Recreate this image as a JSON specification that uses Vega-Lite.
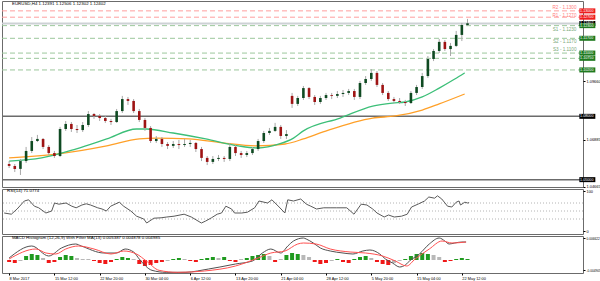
{
  "$schema": "https://vega.github.io/schema/vega-lite/v6.json",
  "padding": 0,
  "background": "white",
  "spacing": 2,
  "bounds": "flush",
  "config": {
    "view": {"stroke": "#6b6b6b", "strokeWidth": 1},
    "axis": {"labelFont": "Liberation Sans", "labelFontSize": 3.9, "labelColor": "#000000", "tickColor": "#000000", "tickSize": 2, "domain": false, "grid": false, "labelPadding": 1},
    "text": {"font": "Liberation Sans"}
  },
  "datasets": {
    "bars": [
      {"i":0,"o":1.0574,"h":1.0588,"l":1.0555,"c":1.0565,"mh":-0.0006,"hc":"dn"},
      {"i":4,"o":1.0565,"h":1.0574,"l":1.0536,"c":1.0551,"mh":-0.0009,"hc":"dn"},
      {"i":8,"o":1.0551,"h":1.0598,"l":1.0522,"c":1.0588,"mh":-0.0003,"hc":"fl"},
      {"i":12,"o":1.0588,"h":1.0655,"l":1.0579,"c":1.0636,"mh":0.0012,"hc":"up"},
      {"i":16,"o":1.0636,"h":1.0702,"l":1.0626,"c":1.0683,"mh":0.0018,"hc":"up"},
      {"i":20,"o":1.0683,"h":1.0712,"l":1.0678,"c":1.0693,"mh":0.0015,"hc":"up"},
      {"i":24,"o":1.0693,"h":1.0697,"l":1.0645,"c":1.0655,"mh":0.0006,"hc":"fl"},
      {"i":28,"o":1.0655,"h":1.0664,"l":1.0617,"c":1.0626,"mh":-0.0009,"hc":"dn"},
      {"i":32,"o":1.0626,"h":1.0636,"l":1.0603,"c":1.0612,"mh":-0.0006,"hc":"dn"},
      {"i":36,"o":1.0612,"h":1.075,"l":1.0607,"c":1.074,"mh":0.0009,"hc":"up"},
      {"i":40,"o":1.074,"h":1.0778,"l":1.0731,"c":1.0764,"mh":0.0015,"hc":"up"},
      {"i":44,"o":1.0764,"h":1.0773,"l":1.0726,"c":1.074,"mh":0.0012,"hc":"up"},
      {"i":48,"o":1.074,"h":1.0759,"l":1.0721,"c":1.0735,"mh":0.0006,"hc":"fl"},
      {"i":52,"o":1.0735,"h":1.0773,"l":1.0726,"c":1.0759,"mh":0.0003,"hc":"fl"},
      {"i":56,"o":1.0759,"h":1.0825,"l":1.075,"c":1.0811,"mh":0.0003,"hc":"fl"},
      {"i":60,"o":1.0811,"h":1.0816,"l":1.0788,"c":1.0802,"mh":-0.0003,"hc":"dn"},
      {"i":64,"o":1.0802,"h":1.0811,"l":1.0778,"c":1.0792,"mh":-0.0009,"hc":"dn"},
      {"i":68,"o":1.0792,"h":1.0802,"l":1.0769,"c":1.0778,"mh":-0.0012,"hc":"dn"},
      {"i":72,"o":1.0778,"h":1.0788,"l":1.0759,"c":1.0773,"mh":-0.0006,"hc":"dn"},
      {"i":76,"o":1.0773,"h":1.0835,"l":1.0769,"c":1.0825,"mh":0.0003,"hc":"up"},
      {"i":80,"o":1.0825,"h":1.0897,"l":1.0816,"c":1.0882,"mh":0.0009,"hc":"up"},
      {"i":84,"o":1.0882,"h":1.0892,"l":1.0854,"c":1.0873,"mh":0.0006,"hc":"up"},
      {"i":88,"o":1.0873,"h":1.0882,"l":1.0816,"c":1.0825,"mh":0.0003,"hc":"fl"},
      {"i":92,"o":1.0825,"h":1.0835,"l":1.0773,"c":1.0783,"mh":-0.0012,"hc":"dn"},
      {"i":96,"o":1.0783,"h":1.0792,"l":1.0731,"c":1.0745,"mh":-0.0018,"hc":"dn"},
      {"i":100,"o":1.0745,"h":1.0754,"l":1.0674,"c":1.0683,"mh":-0.0015,"hc":"dn"},
      {"i":104,"o":1.0683,"h":1.0707,"l":1.0674,"c":1.0693,"mh":-0.0009,"hc":"dn"},
      {"i":108,"o":1.0693,"h":1.0702,"l":1.0655,"c":1.0669,"mh":-0.0006,"hc":"dn"},
      {"i":112,"o":1.0669,"h":1.0678,"l":1.0645,"c":1.066,"mh":-0.0003,"hc":"fl"},
      {"i":116,"o":1.066,"h":1.0683,"l":1.065,"c":1.0669,"mh":0.0003,"hc":"up"},
      {"i":120,"o":1.0669,"h":1.0688,"l":1.0645,"c":1.0664,"mh":0.0006,"hc":"up"},
      {"i":124,"o":1.0664,"h":1.0693,"l":1.0655,"c":1.0669,"mh":0.0003,"hc":"fl"},
      {"i":128,"o":1.0669,"h":1.0688,"l":1.0655,"c":1.0674,"mh":-0.0003,"hc":"dn"},
      {"i":132,"o":1.0674,"h":1.0678,"l":1.0631,"c":1.0645,"mh":-0.0006,"hc":"dn"},
      {"i":136,"o":1.0645,"h":1.0655,"l":1.0588,"c":1.0603,"mh":0.0003,"hc":"up"},
      {"i":140,"o":1.0603,"h":1.0612,"l":1.0569,"c":1.0584,"mh":0.0006,"hc":"up"},
      {"i":144,"o":1.0584,"h":1.0612,"l":1.0574,"c":1.0598,"mh":0.0009,"hc":"up"},
      {"i":148,"o":1.0598,"h":1.0617,"l":1.0588,"c":1.0603,"mh":0.0006,"hc":"fl"},
      {"i":152,"o":1.0603,"h":1.0612,"l":1.0584,"c":1.0598,"mh":0.0009,"hc":"up"},
      {"i":156,"o":1.0598,"h":1.0674,"l":1.0588,"c":1.0655,"mh":-0.0003,"hc":"dn"},
      {"i":160,"o":1.0655,"h":1.0664,"l":1.0612,"c":1.0626,"mh":-0.0006,"hc":"dn"},
      {"i":164,"o":1.0626,"h":1.0636,"l":1.0603,"c":1.0617,"mh":0.0003,"hc":"fl"},
      {"i":168,"o":1.0617,"h":1.0636,"l":1.0607,"c":1.0626,"mh":0.0006,"hc":"up"},
      {"i":172,"o":1.0626,"h":1.0655,"l":1.0617,"c":1.0645,"mh":0.0012,"hc":"up"},
      {"i":176,"o":1.0645,"h":1.0693,"l":1.0636,"c":1.0683,"mh":0.0015,"hc":"up"},
      {"i":180,"o":1.0683,"h":1.0731,"l":1.0674,"c":1.0721,"mh":0.0018,"hc":"up"},
      {"i":184,"o":1.0721,"h":1.0745,"l":1.0712,"c":1.0731,"mh":0.0012,"hc":"fl"},
      {"i":188,"o":1.0731,"h":1.0769,"l":1.0726,"c":1.075,"mh":-0.0006,"hc":"dn"},
      {"i":192,"o":1.075,"h":1.0759,"l":1.0693,"c":1.0707,"mh":0.0003,"hc":"fl"},
      {"i":196,"o":1.0707,"h":1.0735,"l":1.0693,"c":1.0716,"mh":0.0015,"hc":"up"},
      {"i":200,"o":1.0897,"h":1.0911,"l":1.084,"c":1.0859,"mh":0.0021,"hc":"up"},
      {"i":204,"o":1.0859,"h":1.0897,"l":1.0849,"c":1.0887,"mh":0.0018,"hc":"up"},
      {"i":208,"o":1.0887,"h":1.0944,"l":1.0878,"c":1.0934,"mh":0.0015,"hc":"fl"},
      {"i":212,"o":1.0934,"h":1.0939,"l":1.0882,"c":1.0892,"mh":0.0009,"hc":"fl"},
      {"i":216,"o":1.0892,"h":1.0901,"l":1.0854,"c":1.0868,"mh":-0.0006,"hc":"dn"},
      {"i":220,"o":1.0868,"h":1.0897,"l":1.0859,"c":1.0887,"mh":-0.0012,"hc":"dn"},
      {"i":224,"o":1.0887,"h":1.0911,"l":1.0878,"c":1.0901,"mh":-0.0009,"hc":"dn"},
      {"i":228,"o":1.0901,"h":1.0911,"l":1.0882,"c":1.0897,"mh":-0.0003,"hc":"fl"},
      {"i":232,"o":1.0897,"h":1.092,"l":1.0887,"c":1.0906,"mh":0.0003,"hc":"up"},
      {"i":236,"o":1.0906,"h":1.0925,"l":1.0892,"c":1.0911,"mh":-0.0006,"hc":"dn"},
      {"i":240,"o":1.0911,"h":1.093,"l":1.0901,"c":1.092,"mh":-0.0009,"hc":"dn"},
      {"i":244,"o":1.092,"h":1.093,"l":1.0878,"c":1.0892,"mh":0.0003,"hc":"up"},
      {"i":248,"o":1.0892,"h":1.0968,"l":1.0882,"c":1.0958,"mh":0.0009,"hc":"up"},
      {"i":252,"o":1.0958,"h":1.0991,"l":1.0949,"c":1.0977,"mh":0.0012,"hc":"up"},
      {"i":256,"o":1.0977,"h":1.1024,"l":1.0968,"c":1.1006,"mh":0.0006,"hc":"fl"},
      {"i":260,"o":1.1006,"h":1.1015,"l":1.0939,"c":1.0949,"mh":-0.0006,"hc":"dn"},
      {"i":264,"o":1.0949,"h":1.0958,"l":1.0901,"c":1.0911,"mh":-0.0012,"hc":"dn"},
      {"i":268,"o":1.0911,"h":1.092,"l":1.0873,"c":1.0882,"mh":-0.0015,"hc":"dn"},
      {"i":272,"o":1.0882,"h":1.0892,"l":1.0863,"c":1.0873,"mh":-0.0009,"hc":"fl"},
      {"i":276,"o":1.0873,"h":1.0887,"l":1.0859,"c":1.0868,"mh":-0.0003,"hc":"fl"},
      {"i":280,"o":1.0868,"h":1.0878,"l":1.0849,"c":1.0863,"mh":0.0003,"hc":"up"},
      {"i":284,"o":1.0863,"h":1.092,"l":1.0859,"c":1.0911,"mh":0.0012,"hc":"up"},
      {"i":288,"o":1.0911,"h":1.0949,"l":1.0901,"c":1.0939,"mh":0.0018,"hc":"up"},
      {"i":292,"o":1.0939,"h":1.1006,"l":1.093,"c":1.0991,"mh":0.0021,"hc":"up"},
      {"i":296,"o":1.0991,"h":1.1086,"l":1.0982,"c":1.1072,"mh":0.0018,"hc":"up"},
      {"i":300,"o":1.1072,"h":1.1119,"l":1.1062,"c":1.111,"mh":0.0015,"hc":"fl"},
      {"i":304,"o":1.111,"h":1.1167,"l":1.11,"c":1.1153,"mh":0.0009,"hc":"fl"},
      {"i":308,"o":1.1153,"h":1.1162,"l":1.111,"c":1.1119,"mh":-0.0006,"hc":"dn"},
      {"i":312,"o":1.1119,"h":1.1148,"l":1.1086,"c":1.1134,"mh":-0.0003,"hc":"dn"},
      {"i":316,"o":1.1134,"h":1.1205,"l":1.1129,"c":1.1186,"mh":0.0003,"hc":"up"},
      {"i":320,"o":1.1186,"h":1.1243,"l":1.1157,"c":1.1233,"mh":0.0006,"hc":"up"},
      {"i":324,"o":1.1233,"h":1.1262,"l":1.1228,"c":1.1241,"mh":0.0003,"hc":"up"}
    ],
    "ma": [
      {"s":"fast","i":0,"v":1.0588},{"s":"fast","i":23,"v":1.0603},{"s":"fast","i":47,"v":1.0645},{"s":"fast","i":69,"v":1.0693},
      {"s":"fast","i":90,"v":1.074},{"s":"fast","i":97,"v":1.074},{"s":"fast","i":116,"v":1.0721},{"s":"fast","i":139,"v":1.0693},
      {"s":"fast","i":162,"v":1.066},{"s":"fast","i":176,"v":1.065},{"s":"fast","i":191,"v":1.0669},{"s":"fast","i":201,"v":1.0697},
      {"s":"fast","i":208,"v":1.0731},{"s":"fast","i":234,"v":1.0792},{"s":"fast","i":257,"v":1.0849},{"s":"fast","i":271,"v":1.0863},
      {"s":"fast","i":280,"v":1.0868},{"s":"fast","i":292,"v":1.0892},{"s":"fast","i":304,"v":1.0934},{"s":"fast","i":315,"v":1.0977},
      {"s":"fast","i":322,"v":1.1006},
      {"s":"slow","i":0,"v":1.0603},{"s":"slow","i":35,"v":1.0622},{"s":"slow","i":69,"v":1.066},{"s":"slow","i":92,"v":1.0693},
      {"s":"slow","i":104,"v":1.0697},{"s":"slow","i":127,"v":1.0693},{"s":"slow","i":151,"v":1.0674},{"s":"slow","i":174,"v":1.066},
      {"s":"slow","i":195,"v":1.0669},{"s":"slow","i":208,"v":1.0693},{"s":"slow","i":222,"v":1.0726},{"s":"slow","i":257,"v":1.0792},
      {"s":"slow","i":273,"v":1.0802},{"s":"slow","i":292,"v":1.083},{"s":"slow","i":304,"v":1.0859},{"s":"slow","i":322,"v":1.0906}
    ],
    "levels": [
      {"name":"R2","price":1.13,"kind":"R","label":"R2 - 1.1300"},
      {"name":"R1","price":1.127,"kind":"R","label":"R1 - 1.1270"},
      {"name":"Bid","price":1.12402,"kind":"Bid","label":""},
      {"name":"S1","price":1.123,"kind":"S","label":"S1 - 1.1230"},
      {"name":"S2","price":1.117,"kind":"S","label":"S2 - 1.1170"},
      {"name":"S3","price":1.11,"kind":"S","label":"S3 - 1.1100"},
      {"name":"L1","price":1.1075,"kind":"S","label":""},
      {"name":"L2","price":1.102,"kind":"S","label":""},
      {"name":"K1","price":1.08,"kind":"K","label":""},
      {"name":"K2","price":1.05,"kind":"K","label":""}
    ],
    "rsi": [
      {"i":0,"v":45},{"i":5,"v":42},{"i":9,"v":55},{"i":14,"v":75},{"i":17,"v":78},{"i":21,"v":62},{"i":24,"v":58},{"i":29,"v":45},
      {"i":33,"v":50},{"i":35,"v":70},{"i":38,"v":67},{"i":43,"v":70},{"i":47,"v":62},{"i":50,"v":58},{"i":54,"v":65},{"i":57,"v":68},
      {"i":60,"v":65},{"i":65,"v":58},{"i":68,"v":55},{"i":71,"v":50},{"i":74,"v":62},{"i":80,"v":72},{"i":83,"v":62},{"i":88,"v":50},
      {"i":92,"v":37},{"i":97,"v":30},{"i":99,"v":20},{"i":104,"v":32},{"i":109,"v":33},{"i":113,"v":35},{"i":118,"v":37},{"i":125,"v":42},
      {"i":130,"v":35},{"i":137,"v":20},{"i":140,"v":25},{"i":144,"v":33},{"i":148,"v":42},{"i":151,"v":45},{"i":154,"v":62},{"i":158,"v":55},
      {"i":160,"v":45},{"i":165,"v":45},{"i":169,"v":47},{"i":174,"v":58},{"i":177,"v":75},{"i":183,"v":70},{"i":186,"v":78},{"i":191,"v":60},
      {"i":195,"v":45},{"i":197,"v":78},{"i":201,"v":75},{"i":206,"v":80},{"i":210,"v":67},{"i":213,"v":62},{"i":217,"v":55},{"i":222,"v":58},
      {"i":227,"v":58},{"i":231,"v":58},{"i":238,"v":58},{"i":243,"v":42},{"i":248,"v":67},{"i":252,"v":65},{"i":256,"v":55},{"i":259,"v":45},
      {"i":264,"v":35},{"i":267,"v":40},{"i":271,"v":35},{"i":276,"v":37},{"i":280,"v":42},{"i":283,"v":60},{"i":288,"v":68},{"i":292,"v":75},
      {"i":295,"v":85},{"i":299,"v":82},{"i":301,"v":88},{"i":304,"v":80},{"i":308,"v":62},{"i":311,"v":60},{"i":314,"v":72},{"i":316,"v":75},
      {"i":317,"v":65},{"i":320,"v":72},{"i":322,"v":70},{"i":323,"v":71}
    ],
    "macd": [
      {"s":"m","i":0,"v":0.0006},{"s":"m","i":16,"v":0.0042},{"s":"m","i":28,"v":0.0012},{"s":"m","i":37,"v":0.0036},{"s":"m","i":47,"v":0.0048},
      {"s":"m","i":51,"v":0.0042},{"s":"m","i":67,"v":0.0021},{"s":"m","i":76,"v":0.0021},{"s":"m","i":82,"v":0.0033},{"s":"m","i":88,"v":0.0024},
      {"s":"m","i":92,"v":0.0003},{"s":"m","i":101,"v":-0.0031},{"s":"m","i":111,"v":-0.0037},{"s":"m","i":125,"v":-0.0037},{"s":"m","i":133,"v":-0.0033},
      {"s":"m","i":141,"v":-0.0027},{"s":"m","i":149,"v":-0.0021},{"s":"m","i":160,"v":-0.0012},{"s":"m","i":172,"v":-0.0003},{"s":"m","i":179,"v":0.0021},
      {"s":"m","i":185,"v":0.0033},{"s":"m","i":192,"v":0.0021},{"s":"m","i":197,"v":0.0042},{"s":"m","i":201,"v":0.0057},{"s":"m","i":208,"v":0.0066},
      {"s":"m","i":210,"v":0.0063},{"s":"m","i":215,"v":0.0051},{"s":"m","i":220,"v":0.0036},{"s":"m","i":227,"v":0.0027},{"s":"m","i":236,"v":0.0021},
      {"s":"m","i":243,"v":0.0018},{"s":"m","i":250,"v":0.0027},{"s":"m","i":255,"v":0.003},{"s":"m","i":262,"v":0.0018},{"s":"m","i":266,"v":0.0003},
      {"s":"m","i":271,"v":-0.0009},{"s":"m","i":276,"v":-0.0021},{"s":"m","i":280,"v":-0.0015},{"s":"m","i":283,"v":-0.0003},{"s":"m","i":290,"v":0.0018},
      {"s":"m","i":297,"v":0.0048},{"s":"m","i":304,"v":0.0066},{"s":"m","i":308,"v":0.0057},{"s":"m","i":311,"v":0.0048},{"s":"m","i":315,"v":0.0051},
      {"s":"m","i":320,"v":0.0054},{"s":"m","i":323,"v":0.0054},
      {"s":"s","i":0,"v":0.0003},{"s":"s","i":19,"v":0.0033},{"s":"s","i":26,"v":0.0021},{"s":"s","i":33,"v":0.0018},{"s":"s","i":40,"v":0.0033},
      {"s":"s","i":49,"v":0.0042},{"s":"s","i":60,"v":0.0033},{"s":"s","i":72,"v":0.0018},{"s":"s","i":81,"v":0.0027},{"s":"s","i":90,"v":0.0018},
      {"s":"s","i":97,"v":-0.0003},{"s":"s","i":106,"v":-0.0031},{"s":"s","i":119,"v":-0.0037},{"s":"s","i":138,"v":-0.0033},{"s":"s","i":160,"v":-0.0018},
      {"s":"s","i":176,"v":0.0006},{"s":"s","i":185,"v":0.0021},{"s":"s","i":195,"v":0.0027},{"s":"s","i":204,"v":0.0048},{"s":"s","i":208,"v":0.0051},
      {"s":"s","i":217,"v":0.0048},{"s":"s","i":227,"v":0.0033},{"s":"s","i":241,"v":0.0024},{"s":"s","i":252,"v":0.0021},{"s":"s","i":264,"v":0.0012},
      {"s":"s","i":273,"v":-0.0003},{"s":"s","i":281,"v":-0.0018},{"s":"s","i":287,"v":0.0003},{"s":"s","i":297,"v":0.0033},{"s":"s","i":306,"v":0.0057},
      {"s":"s","i":313,"v":0.0051},{"s":"s","i":323,"v":0.0054}
    ]
  },
  "vconcat": [
    {
      "width": 581,
      "height": 186,
      "layer": [
        {
          "data": {"name": "levels"},
          "transform": [{"filter": "datum.kind === 'K'"}],
          "mark": {"type": "rule", "color": "#6b6b6b", "strokeWidth": 1.5},
          "encoding": {
            "y": {"field": "price", "type": "quantitative", "title": null,
                  "scale": {"domain": [1.04651, 1.13468], "nice": false, "zero": false},
                  "axis": {"orient": "right", "title": null, "format": ".5f",
                           "values": [1.04665, 1.0522, 1.05775, 1.0633, 1.06885, 1.0744, 1.0855, 1.09105, 1.0966, 1.11325, 1.1188]}}
          }
        },
        {
          "data": {"name": "levels"},
          "transform": [{"filter": "datum.kind === 'R'"}],
          "mark": {"type": "rule", "color": "#ff9e9e", "strokeWidth": 1, "strokeDash": [5, 3]},
          "encoding": {"y": {"field": "price", "type": "quantitative", "title": null}}
        },
        {
          "data": {"name": "levels"},
          "transform": [{"filter": "datum.kind === 'S'"}],
          "mark": {"type": "rule", "color": "#9cc79c", "strokeWidth": 1, "strokeDash": [5, 3]},
          "encoding": {"y": {"field": "price", "type": "quantitative", "title": null}}
        },
        {
          "data": {"name": "levels"},
          "transform": [{"filter": "datum.kind === 'Bid'"}],
          "mark": {"type": "rule", "color": "#cdd1d5", "strokeWidth": 2},
          "encoding": {"y": {"field": "price", "type": "quantitative", "title": null}}
        },
        {
          "data": {"name": "ma"},
          "transform": [{"filter": "datum.s === 'slow'"}],
          "mark": {"type": "line", "color": "#ffa028", "strokeWidth": 1.3, "interpolate": "monotone"},
          "encoding": {
            "x": {"field": "i", "type": "quantitative", "title": null, "scale": {"domain": [-1.5, 402.1], "nice": false, "zero": false}, "axis": null},
            "y": {"field": "v", "type": "quantitative", "title": null}
          }
        },
        {
          "data": {"name": "ma"},
          "transform": [{"filter": "datum.s === 'fast'"}],
          "mark": {"type": "line", "color": "#3cbf78", "strokeWidth": 1.3, "interpolate": "monotone"},
          "encoding": {
            "x": {"field": "i", "type": "quantitative", "title": null},
            "y": {"field": "v", "type": "quantitative", "title": null}
          }
        },
        {
          "data": {"name": "bars"},
          "mark": {"type": "rule", "color": "#a8a8a8", "strokeWidth": 1},
          "encoding": {
            "x": {"field": "i", "type": "quantitative", "title": null},
            "y": {"field": "l", "type": "quantitative", "title": null},
            "y2": {"field": "h"}
          }
        },
        {
          "data": {"name": "bars"},
          "mark": {"type": "bar", "size": 2.6},
          "encoding": {
            "x": {"field": "i", "type": "quantitative", "title": null},
            "y": {"field": "o", "type": "quantitative", "title": null},
            "y2": {"field": "c"},
            "color": {"condition": {"test": "datum.c >= datum.o", "value": "#0f4a22"}, "value": "#9e1414"}
          }
        },
        {
          "data": {"name": "levels"},
          "transform": [{"filter": "datum.name === 'R2' || datum.name === 'S3'"}],
          "mark": {"type": "text", "align": "right", "baseline": "bottom", "dy": -1, "fontSize": 4.6},
          "encoding": {
            "x": {"datum": 401},
            "y": {"field": "price", "type": "quantitative", "title": null},
            "text": {"field": "label"},
            "color": {"condition": {"test": "datum.kind === 'R'", "value": "#ff7d7d"}, "value": "#78a878"}
          }
        },
        {
          "data": {"name": "levels"},
          "transform": [{"filter": "datum.name === 'S1' || datum.name === 'S2'"}],
          "mark": {"type": "text", "align": "right", "baseline": "top", "dy": 1, "fontSize": 4.6},
          "encoding": {
            "x": {"datum": 401},
            "y": {"field": "price", "type": "quantitative", "title": null},
            "text": {"field": "label"},
            "color": {"value": "#78a878"}
          }
        },
        {
          "data": {"name": "levels"},
          "transform": [{"filter": "datum.name === 'R1'"}],
          "mark": {"type": "text", "align": "right", "baseline": "middle", "dy": -1, "fontSize": 4.6},
          "encoding": {
            "x": {"datum": 401},
            "y": {"field": "price", "type": "quantitative", "title": null},
            "text": {"field": "label"},
            "color": {"value": "#ff7d7d"}
          }
        },
        {
          "data": {"name": "levels"},
          "mark": {"type": "tick", "orient": "horizontal", "size": 16, "thickness": 5, "opacity": 1},
          "encoding": {
            "x": {"datum": 408.7},
            "y": {"field": "price", "type": "quantitative", "title": null},
            "color": {"condition": [{"test": "datum.kind === 'R'", "value": "#ee1c1c"}, {"test": "datum.kind === 'S'", "value": "#1f7a1f"}], "value": "#000000"}
          }
        },
        {
          "data": {"name": "levels"},
          "mark": {"type": "text", "align": "left", "baseline": "middle", "fontSize": 3.7, "color": "#ffffff"},
          "encoding": {
            "x": {"datum": 403.6},
            "y": {"field": "price", "type": "quantitative", "title": null},
            "text": {"field": "price", "type": "quantitative", "format": ".5f"}
          }
        },
        {
          "data": {"values": [{"t": "EURUSD,H4  1.12391 1.12506 1.12302 1.12402"}]},
          "mark": {"type": "text", "align": "left", "baseline": "top", "fontSize": 4.4, "color": "#000000"},
          "encoding": {
            "x": {"datum": 2},
            "y": {"datum": 1.1343},
            "text": {"field": "t"}
          }
        }
      ]
    },
    {
      "width": 581,
      "height": 45,
      "layer": [
        {
          "data": {"values": [{"v": 30}, {"v": 50}, {"v": 70}]},
          "mark": {"type": "rule", "color": "#b4b4b4", "strokeWidth": 1, "strokeDash": [1, 2]},
          "encoding": {
            "y": {"field": "v", "type": "quantitative", "title": null,
                  "scale": {"domain": [-7.5, 105], "nice": false, "zero": false},
                  "axis": {"orient": "right", "title": null, "values": [0, 30, 50, 70, 100]}}
          }
        },
        {
          "data": {"name": "rsi"},
          "mark": {"type": "line", "color": "#5a5a5a", "strokeWidth": 1},
          "encoding": {
            "x": {"field": "i", "type": "quantitative", "title": null, "scale": {"domain": [-1.5, 402.1], "nice": false, "zero": false}, "axis": null},
            "y": {"field": "v", "type": "quantitative", "title": null}
          }
        },
        {
          "data": {"values": [{"t": "RSI(14) 71.0774"}]},
          "mark": {"type": "text", "align": "left", "baseline": "top", "fontSize": 4.4, "color": "#000000"},
          "encoding": {
            "x": {"datum": 2},
            "y": {"datum": 104},
            "text": {"field": "t"}
          }
        }
      ]
    },
    {
      "width": 581,
      "height": 37,
      "layer": [
        {
          "data": {"name": "bars"},
          "mark": {"type": "bar", "size": 4},
          "encoding": {
            "x": {"field": "i", "type": "quantitative", "title": null,
                  "scale": {"domain": [-1.5, 402.1], "nice": false, "zero": false},
                  "axis": {"orient": "bottom", "title": null, "values": [0,16,32,48,64,80,96,112,128,144,160,176,192,208,224,240,256,272,288,304,320],
                           "labelAlign": "left", "labelBaseline": "top", "labelOverlap": false, "labelFlush": false, "labelPadding": 1,
                           "labelExpr": "['8 Mar 2017','10 Mar 20:00','15 Mar 12:00','20 Mar 04:00','22 Mar 20:00','27 Mar 12:00','30 Mar 04:00','3 Apr 20:00','6 Apr 12:00','11 Apr 04:00','13 Apr 20:00','18 Apr 12:00','21 Apr 04:00','25 Apr 20:00','28 Apr 12:00','3 May 04:00','5 May 20:00','10 May 12:00','15 May 04:00','17 May 20:00','22 May 12:00'][round(datum.value/16)]"}},
            "y": {"field": "mh", "type": "quantitative", "title": null,
                  "scale": {"domain": [-0.0039, 0.0072], "nice": false, "zero": false},
                  "axis": {"orient": "right", "title": null, "values": [-0.003, 0, 0.0066], "labelFontSize": 3.2,
                           "labelExpr": "datum.value > 0.001 ? '0.006622' : (datum.value < -0.001 ? '-0.004905' : '0.00')"}},
            "y2": {"datum": 0},
            "color": {"condition": [{"test": "datum.hc === 'up'", "value": "#1f9a1f"}, {"test": "datum.hc === 'dn'", "value": "#f01818"}], "value": "#b8b8b8"}
          }
        },
        {
          "data": {"name": "macd"},
          "transform": [{"filter": "datum.s === 'm'"}],
          "mark": {"type": "line", "color": "#505050", "strokeWidth": 1, "interpolate": "monotone"},
          "encoding": {
            "x": {"field": "i", "type": "quantitative", "title": null},
            "y": {"field": "v", "type": "quantitative", "title": null}
          }
        },
        {
          "data": {"name": "macd"},
          "transform": [{"filter": "datum.s === 's'"}],
          "mark": {"type": "line", "color": "#ff5050", "strokeWidth": 1, "interpolate": "monotone"},
          "encoding": {
            "x": {"field": "i", "type": "quantitative", "title": null},
            "y": {"field": "v", "type": "quantitative", "title": null}
          }
        },
        {
          "data": {"values": [{"t": "MACD Histogram (12,26,9) With Filter MA(13) 0.005387 0.004878 0.004985"}]},
          "mark": {"type": "text", "align": "left", "baseline": "top", "fontSize": 4.4, "color": "#000000"},
          "encoding": {
            "x": {"datum": 2},
            "y": {"datum": 0.0071},
            "text": {"field": "t"}
          }
        }
      ]
    }
  ]
}
